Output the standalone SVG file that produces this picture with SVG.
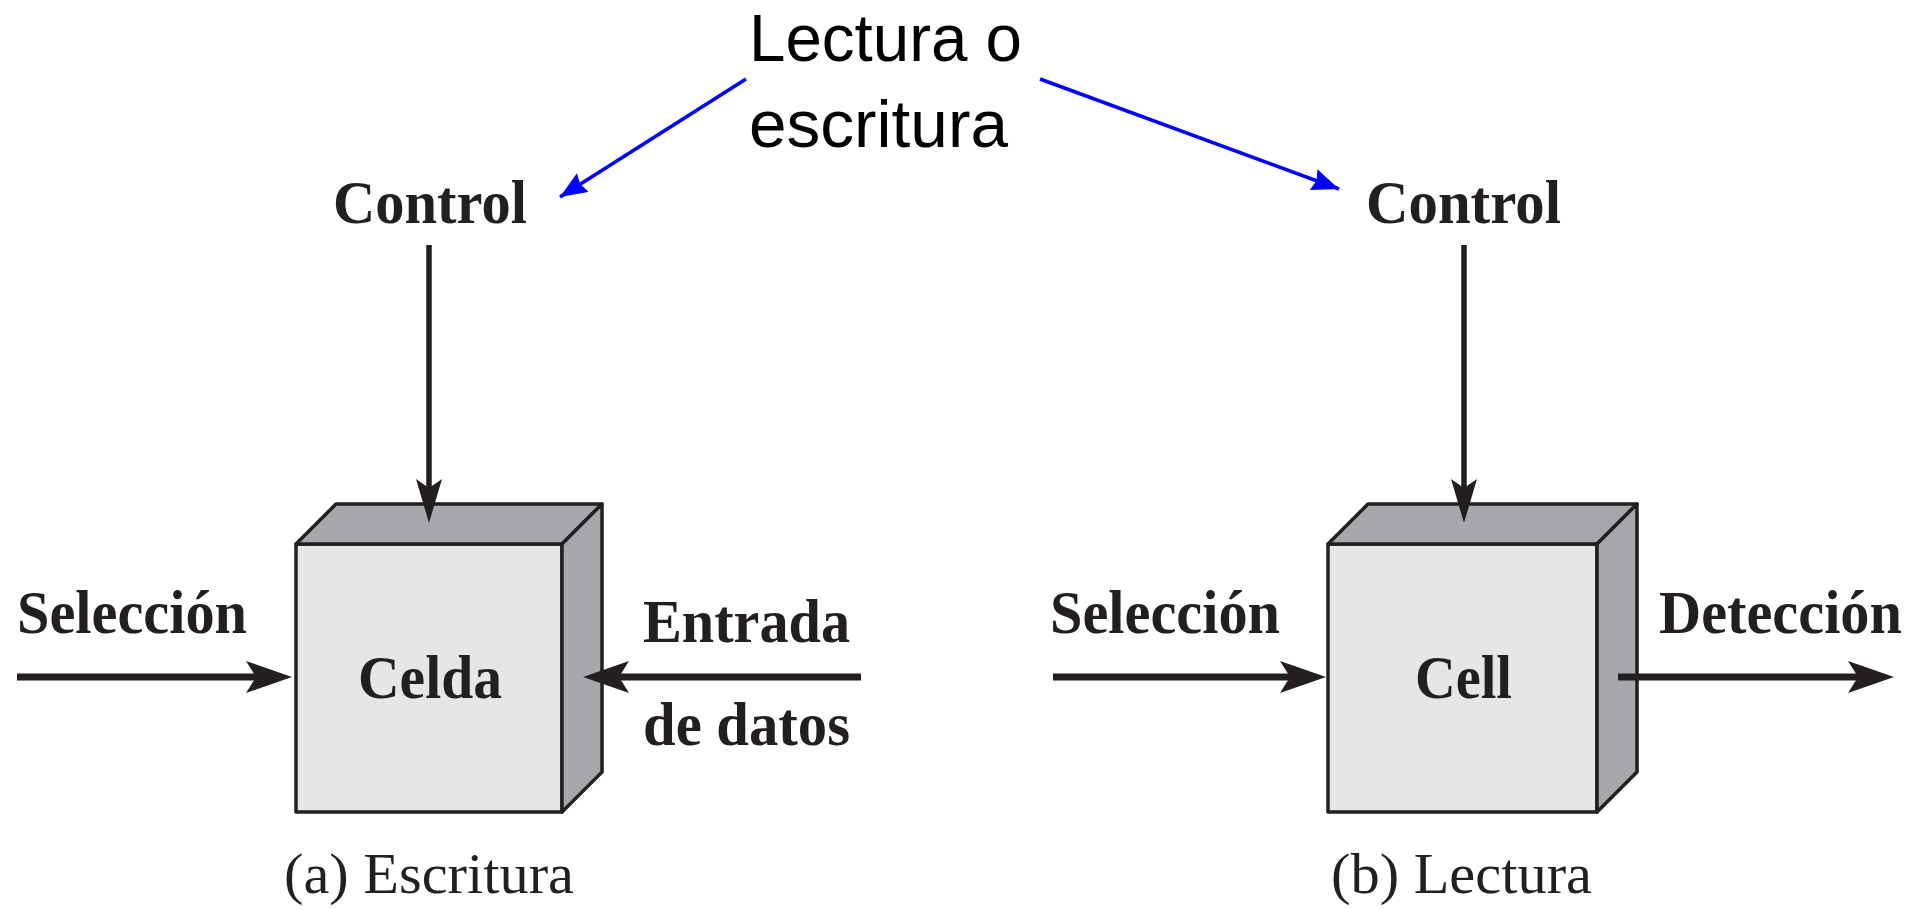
<svg xmlns="http://www.w3.org/2000/svg" width="1930" height="909" viewBox="0 0 1930 909">
<style>
.lbl{font-family:"Liberation Serif","Times New Roman",serif;font-weight:bold;font-size:61px;fill:#231f20}
.cap{font-family:"Liberation Serif","Times New Roman",serif;font-size:58px;fill:#231f20}
.note{font-family:"Liberation Sans",Arial,sans-serif;font-size:67px;fill:#000}
.front{fill:#e5e6e8;stroke:#231f20;stroke-width:3.5;stroke-linejoin:round}
.side{fill:#a7a8ab;stroke:#231f20;stroke-width:3.5;stroke-linejoin:round}
.wire{stroke:#231f20;fill:none}
.head{fill:#231f20;stroke:none}
.blue{stroke:#0000ff;stroke-width:3.6;fill:none;marker-end:url(#bh)}
</style>
<defs>
<marker id="bh" markerUnits="userSpaceOnUse" markerWidth="32" markerHeight="24" refX="27" refY="11" orient="auto">
<path d="M0,0 L27,11 L0,22 L3,11 Z" fill="#0000ff"/>
</marker>
</defs>
<rect width="1930" height="909" fill="#fff"/>

<g id="note">
<text class="note" x="749" y="61" textLength="273" lengthAdjust="spacingAndGlyphs">Lectura o</text>
<text class="note" x="749" y="147" textLength="259" lengthAdjust="spacingAndGlyphs">escritura</text>
</g>

<g id="cellA">
<rect class="front" x="296" y="544" width="266" height="268"/>
<polygon class="side" points="296,544 336,504 602,504 562,544"/>
<polygon class="side" points="562,544 602,504 602,772 562,812"/>
<text class="lbl" x="358" y="698" textLength="144" lengthAdjust="spacingAndGlyphs">Celda</text>
</g>
<g id="cellB">
<rect class="front" x="1328" y="544" width="269" height="268"/>
<polygon class="side" points="1328,544 1368,504 1637,504 1597,544"/>
<polygon class="side" points="1597,544 1637,504 1637,772 1597,812"/>
<text class="lbl" x="1415" y="698" textLength="97" lengthAdjust="spacingAndGlyphs">Cell</text>
</g>

<g id="labels">
<text class="lbl" x="333" y="223" textLength="194" lengthAdjust="spacingAndGlyphs">Control</text>
<text class="lbl" x="1366" y="223" textLength="195" lengthAdjust="spacingAndGlyphs">Control</text>
<text class="lbl" x="17" y="633" textLength="230" lengthAdjust="spacingAndGlyphs">Selección</text>
<text class="lbl" x="643" y="642" textLength="207" lengthAdjust="spacingAndGlyphs">Entrada</text>
<text class="lbl" x="643" y="745" textLength="207" lengthAdjust="spacingAndGlyphs">de datos</text>
<text class="lbl" x="1050" y="633" textLength="230" lengthAdjust="spacingAndGlyphs">Selección</text>
<text class="lbl" x="1659" y="633" textLength="243" lengthAdjust="spacingAndGlyphs">Detección</text>
<text class="cap" x="284" y="893" textLength="290" lengthAdjust="spacingAndGlyphs">(a) Escritura</text>
<text class="cap" x="1331" y="893" textLength="261" lengthAdjust="spacingAndGlyphs">(b) Lectura</text>
</g>

<g id="connectors">
<line class="blue" x1="746" y1="79" x2="560" y2="197"/>
<line class="blue" x1="1040" y1="79" x2="1339" y2="189"/>

<line class="wire" stroke-width="5.5" x1="429" y1="245" x2="429" y2="495"/>
<path class="head" d="M429,523 L416,479 L429,488 L442,479 Z"/>
<line class="wire" stroke-width="5.5" x1="1464" y1="245" x2="1464" y2="495"/>
<path class="head" d="M1464,523 L1451,479 L1464,488 L1477,479 Z"/>

<line class="wire" stroke-width="7" x1="17" y1="677" x2="262" y2="677"/>
<path class="head" d="M292,677 L246,661 L256,677 L246,693 Z"/>
<line class="wire" stroke-width="7" x1="861" y1="677" x2="613" y2="677"/>
<path class="head" d="M583,677 L629,661 L619,677 L629,693 Z"/>
<line class="wire" stroke-width="7" x1="1053" y1="677" x2="1296" y2="677"/>
<path class="head" d="M1326,677 L1280,661 L1290,677 L1280,693 Z"/>
<line class="wire" stroke-width="7" x1="1618" y1="677" x2="1864" y2="677"/>
<path class="head" d="M1894,677 L1848,661 L1858,677 L1848,693 Z"/>
</g>
</svg>
